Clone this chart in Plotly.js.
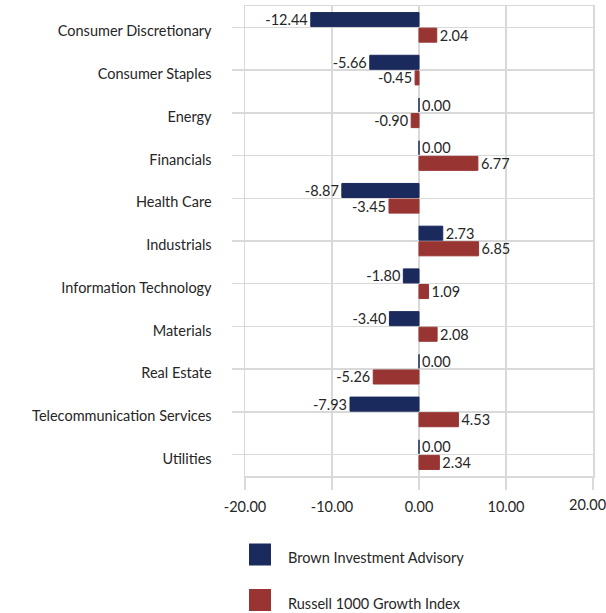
<!DOCTYPE html>
<html><head><meta charset="utf-8">
<script src="https://cdn.plot.ly/plotly-3.0.1.min.js"></script>
<style>body{margin:0;background:#fff}#c{width:606px;height:613px}</style>
</head><body><div id="c"></div>
<script>
const categories = ["Consumer Discretionary","Consumer Staples","Energy","Financials","Health Care","Industrials","Information Technology","Materials","Real Estate","Telecommunication Services","Utilities"];
const seriesNames = ["Brown Investment Advisory","Russell 1000 Growth Index"];
const brownValues = [-12.44,-5.66,0.00,0.00,-8.87,2.73,-1.80,-3.40,0.00,-7.93,0.00];
const russellValues = [2.04,-0.45,-0.90,6.77,-3.45,6.85,1.09,2.08,-5.26,4.53,2.34];
const xTicks = [-20,-10,0,10,20];
const colors = ["#1B2A5C","#983532"];

const W=606,H=613,L=245,R=13,T=6,B=137;
const pw=W-L-R, ph=H-T-B;
const px=v=>(v-L)/pw, py=v=>(H-B-v)/ph;
const font="Lato, 'Open Sans', sans-serif";
const tc="#262626";

function mk(vals,i){return {type:'bar',orientation:'h',y:categories,x:vals,name:seriesNames[i],
 marker:{color:colors[i],line:{color:colors[i],width:1}},
 texttemplate:'%{x:.2f}',textposition:'outside',cliponaxis:false,constraintext:'none',
 textfont:{family:font,size:14.5,color:tc},showlegend:false,hoverinfo:'x+y'};}

const shapes=[],annotations=[];
seriesNames.forEach((n,i)=>{
 const cy=[554.5,600][i];
 shapes.push({type:'rect',xref:'paper',yref:'paper',x0:px(249),x1:px(271),y0:py(cy+11),y1:py(cy-11),fillcolor:colors[i],line:{width:0}});
 annotations.push({xref:'paper',yref:'paper',x:px(286),y:py(cy+3),xanchor:'left',yanchor:'middle',text:n,showarrow:false,font:{family:font,size:14.5,color:tc}});
});

// last tick label is pulled inward so it stays inside the page (as in the reference)
const lastTick = xTicks[xTicks.length-1];
const xText = xTicks.map(v=>v===lastTick?'':v.toFixed(2));
annotations.push({xref:'x',yref:'paper',x:lastTick,y:py(505),xshift:-6,xanchor:'center',yanchor:'middle',
 text:lastTick.toFixed(2),showarrow:false,font:{family:font,size:14.5,color:tc}});

Plotly.newPlot('c',[mk(brownValues,0),mk(russellValues,1)],{
 width:W,height:H,margin:{l:L,r:R,t:T,b:B},barmode:'group',bargap:0.27,bargroupgap:0.1,
 paper_bgcolor:'#fff',plot_bgcolor:'#fff',font:{family:font,size:14.5,color:tc},
 xaxis:{range:[-20,20],tickvals:xTicks,ticktext:xText,showgrid:true,gridcolor:'#D9D9D9',gridwidth:1.5,
  zeroline:false,showline:true,mirror:true,linecolor:'#D9D9D9',linewidth:1.5,ticks:'outside',ticklen:12,tickcolor:'#D9D9D9',tickwidth:1.5,
  ticklabelstandoff:5,tickfont:{family:font,size:14.5,color:tc}},
 yaxis:{autorange:'reversed',showgrid:true,gridcolor:'#D9D9D9',gridwidth:1.5,showline:true,mirror:true,linecolor:'#D9D9D9',linewidth:1.5,
  ticks:'outside',ticklen:12,tickcolor:'#D9D9D9',tickwidth:1.5,ticklabelstandoff:17,ticklabelshift:-4,tickfont:{family:font,size:14.5,color:tc}},
 shapes:shapes,annotations:annotations
},{displayModeBar:false,staticPlot:true});
</script></body></html>
